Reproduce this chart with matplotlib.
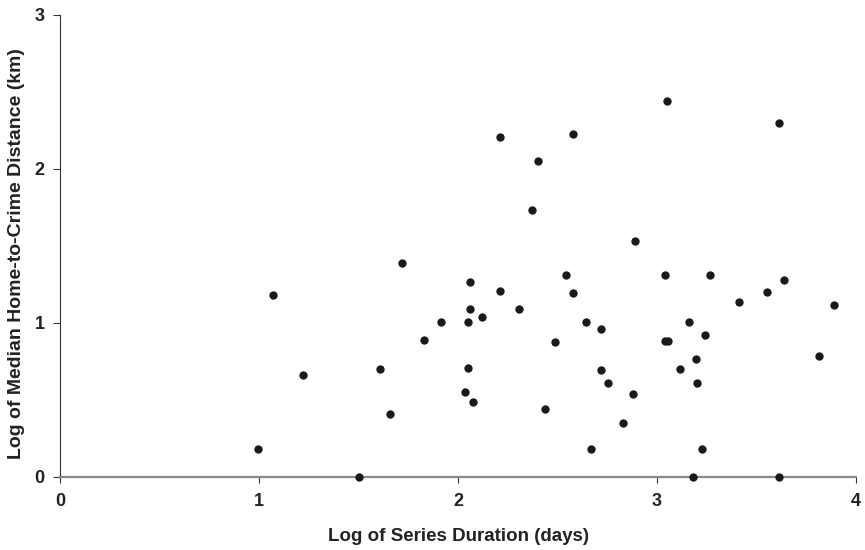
import matplotlib
matplotlib.use("Agg")
import matplotlib.pyplot as plt

plt.rcParams['font.family'] = ['Liberation Sans', 'DejaVu Sans']

# Log of series duration (days)
log_duration = [
    0.994, 1.071, 1.223, 1.503, 1.608, 1.658, 1.717, 1.829, 1.916,
    2.037, 2.052, 2.052, 2.058, 2.058, 2.073, 2.122, 2.209, 2.209,
    2.308, 2.373, 2.401, 2.436, 2.486, 2.543, 2.580, 2.580, 2.644,
    2.666, 2.716, 2.716, 2.755, 2.830, 2.880, 2.888, 3.039, 3.040,
    3.052, 3.055, 3.116, 3.158, 3.181, 3.195, 3.201, 3.225, 3.239,
    3.266, 3.410, 3.553, 3.611, 3.611, 3.638, 3.814, 3.887,
]
# Log of median home-to-crime distance (km)
log_distance = [
    0.180, 1.180, 0.662, 0.000, 0.701, 0.405, 1.386, 0.886, 1.005,
    0.552, 1.005, 0.708, 1.264, 1.089, 0.487, 1.039, 2.208, 1.208,
    1.089, 1.732, 2.050, 0.440, 0.873, 1.310, 2.225, 1.191, 1.005,
    0.182, 0.959, 0.691, 0.608, 0.349, 0.535, 1.532, 1.310, 0.881,
    2.438, 0.881, 0.701, 1.005, 0.000, 0.766, 0.608, 0.182, 0.920,
    1.310, 1.136, 1.199, 2.299, 0.000, 1.275, 0.784, 1.115,
]

x_ticks = [0, 1, 2, 3, 4]
y_ticks = [0, 1, 2, 3]

fig = plt.figure(figsize=(8.65, 5.5), dpi=100)
ax = fig.add_axes([0.0694, 0.1333, 0.9203, 0.84])

ax.scatter(log_duration, log_distance, s=36, color='#1a1a1a', zorder=3,
           linewidths=0, clip_on=False)

ax.set_xlim(0, 4)
ax.set_ylim(0, 3)
ax.set_xticks(x_ticks)
ax.set_yticks(y_ticks)
ax.set_xticklabels([str(v) for v in x_ticks], fontsize=13, fontweight='bold', color='#222222')
ax.set_yticklabels([str(v) for v in y_ticks], fontsize=13, fontweight='bold', color='#222222')

for s in ['top', 'right']:
    ax.spines[s].set_visible(False)
ax.spines['bottom'].set_color('#8a8a8a')
ax.spines['bottom'].set_linewidth(1.6)
ax.spines['left'].set_color('#333333')
ax.spines['left'].set_linewidth(0.8)
ax.tick_params(axis='x', length=4, width=0.8, color='#333333', pad=8)
ax.tick_params(axis='y', length=5, width=0.8, color='#333333', pad=6)

ax.set_xlabel('Log of Series Duration (days)', fontsize=13.5, fontweight='bold',
              color='#222222', labelpad=13)
ax.set_ylabel('Log of Median Home-to-Crime Distance (km)', fontsize=14,
              fontweight='bold', color='#222222')
ax.yaxis.set_label_coords(-0.044, 0.483)

fig.savefig('out.png', dpi=100, facecolor='white')
